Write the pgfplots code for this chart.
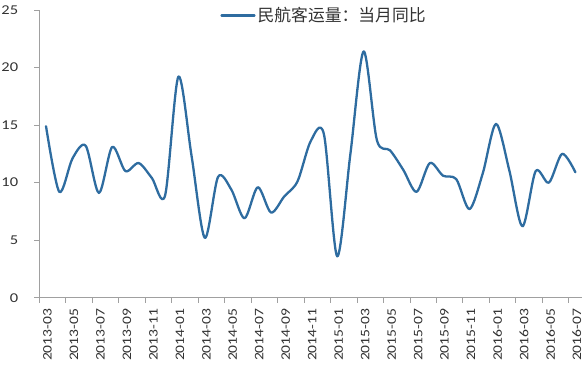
\documentclass[border=0pt]{standalone}
\usepackage{fontspec}
\setmainfont{Carlito}
\newfontfamily\cjk{Noto Sans CJK SC}
\usepackage{pgfplots}
\pgfplotsset{compat=1.18}
\definecolor{serieblue}{RGB}{46,108,160}
\definecolor{axisgray}{RGB}{160,160,160}
\definecolor{labgray}{RGB}{50,50,50}
\pgfplotstableread{
i v
0 14.9
1 9.2
2 12.1
3 13.2
4 9.1
5 13.1
6 11.0
7 11.7
8 10.4
9 8.9
10 19.2
11 12.3
12 5.2
13 10.5
14 9.4
15 6.9
16 9.6
17 7.4
18 8.8
19 10.1
20 13.6
21 14.2
22 3.6
23 12.5
24 21.4
25 13.7
26 12.8
27 11.1
28 9.2
29 11.7
30 10.6
31 10.3
32 7.7
33 10.8
34 15.1
35 11.1
36 6.2
37 11.0
38 10.0
39 12.5
40 10.9
}\datatable
\begin{document}
\begin{tikzpicture}
\begin{axis}[
  scale only axis, width=542.6pt, height=287.7pt,
  xmin=-0.5, xmax=40.5, ymin=0, ymax=25,
  axis x line*=bottom, axis y line*=left,
  axis line style={axisgray, line width=0.9pt, -},
  tick align=outside, major tick length=5pt,
  tick style={axisgray, line width=0.9pt},
  /pgf/number format/assume math mode=true,
  ytick={0,5,...,25},
  yticklabel style={font=\fontsize{13.5}{14}\selectfont, text=labgray, anchor=east, inner sep=0pt, xshift=-16pt, xscale=1.22},
  xtick={-0.5,1.5,...,39.5}, xticklabels={},
  extra x ticks={0,2,...,40},
  extra x tick labels={2013-03,2013-05,2013-07,2013-09,2013-11,2014-01,2014-03,2014-05,2014-07,2014-09,2014-11,2015-01,2015-03,2015-05,2015-07,2015-09,2015-11,2016-01,2016-03,2016-05,2016-07},
  extra x tick style={major tick length=0pt},
  xticklabel style={font=\fontsize{13}{14}\selectfont, text=labgray, yshift=-10.8pt, xshift=1.5pt, rotate=90, anchor=east, inner sep=0pt, xscale=1.2},
  legend style={draw=none, fill=none, at={(0.5245,0.981)}, anchor=center, font=\cjk\fontsize{16.8}{18}\selectfont, text=labgray},
  legend image code/.code={\draw[#1, line width=2.3pt] (0pt,0pt) -- (33pt,0pt);},
  clip=false,
]
\addplot[serieblue, line width=2.3pt, smooth, line cap=round, line join=round, no marks] table[x=i, y=v] {\datatable};
\addlegendentry{民航客运量：当月同比}
\end{axis}
\pgfresetboundingbox
\path ([shift={(-39.4pt,-71.3pt)}]current axis.south west) rectangle ([shift={(6pt,10pt)}]current axis.north east);
\end{tikzpicture}
\end{document}
